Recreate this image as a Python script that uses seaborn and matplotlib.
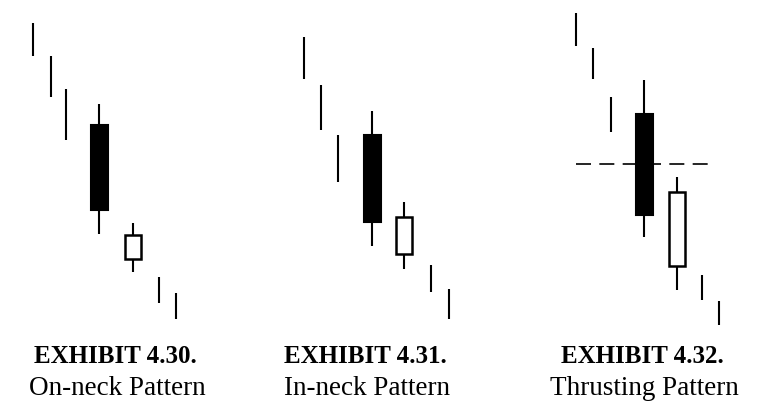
import matplotlib
matplotlib.use("Agg")
import matplotlib.pyplot as plt
import seaborn as sns

sns.set_theme(style="white")
plt.rcParams["font.family"] = ["Liberation Serif", "DejaVu Serif"]

# price levels (higher = up), one list per field
onneck_x = [33, 51, 66, 99, 133, 159, 176]
onneck_high = [382, 349, 316, 301, 182, 128, 112]
onneck_low = [349, 308, 265, 171, 133, 102, 86]
onneck_open = [None, None, None, 280, 146, None, None]
onneck_close = [None, None, None, 195, 170, None, None]

inneck_x = [304, 321, 338, 372, 404, 431, 449]
inneck_high = [368, 320, 270, 294, 203, 140, 116]
inneck_low = [326, 275, 223, 159, 136, 113, 86]
inneck_open = [None, None, None, 270, 151, None, None]
inneck_close = [None, None, None, 183, 188, None, None]

thrust_x = [576, 593, 611, 644, 677, 702, 719]
thrust_high = [392, 357, 308, 325, 228, 130, 104]
thrust_low = [359, 326, 273, 168, 115, 105, 80]
thrust_open = [None, None, None, 291, 139, None, None]
thrust_close = [None, None, None, 190, 213, None, None]
thrust_midpoint = 241
thrust_mid_span = [576, 713]

titles = ["EXHIBIT 4.30.", "EXHIBIT 4.31.", "EXHIBIT 4.32."]
subtitles = ["On-neck Pattern", "In-neck Pattern", "Thrusting Pattern"]
title_x = [115, 365, 642]

panels = [
    (onneck_x, onneck_high, onneck_low, onneck_open, onneck_close),
    (inneck_x, inneck_high, inneck_low, inneck_open, inneck_close),
    (thrust_x, thrust_high, thrust_low, thrust_open, thrust_close),
]

fig = plt.figure(figsize=(7.58, 4.05), dpi=100)
ax = fig.add_axes([0, 0, 1, 1])
ax.set_xlim(0, 758)
ax.set_ylim(0, 405)
ax.axis("off")

for xs, hi, lo, op, cl in panels:
    ax.vlines(xs, lo, hi, color="black", linewidth=1.5, zorder=1)
    for x, o, c in zip(xs, op, cl):
        if o is None:
            continue
        if c < o:
            ax.bar(x, o - c, bottom=c, width=17, color="black",
                   edgecolor="black", linewidth=1.5, zorder=2)
        else:
            ax.bar(x, c - o, bottom=o, width=16, color="white",
                   edgecolor="black", linewidth=1.8, zorder=2)

# thrusting pattern midpoint of the black candle
ax.hlines(thrust_midpoint, thrust_mid_span[0], thrust_mid_span[1], color="black",
          linewidth=1.2, linestyles=(0, (9, 5)), zorder=3)

for tx, t, s in zip(title_x, titles, subtitles):
    ax.text(tx, 42, t, ha="center", va="baseline", fontsize=18,
            fontweight="bold", color="black")
    ax.text(tx + 2, 10, s, ha="center", va="baseline", fontsize=19.5,
            color="black")

fig.savefig("out.png", dpi=100)
